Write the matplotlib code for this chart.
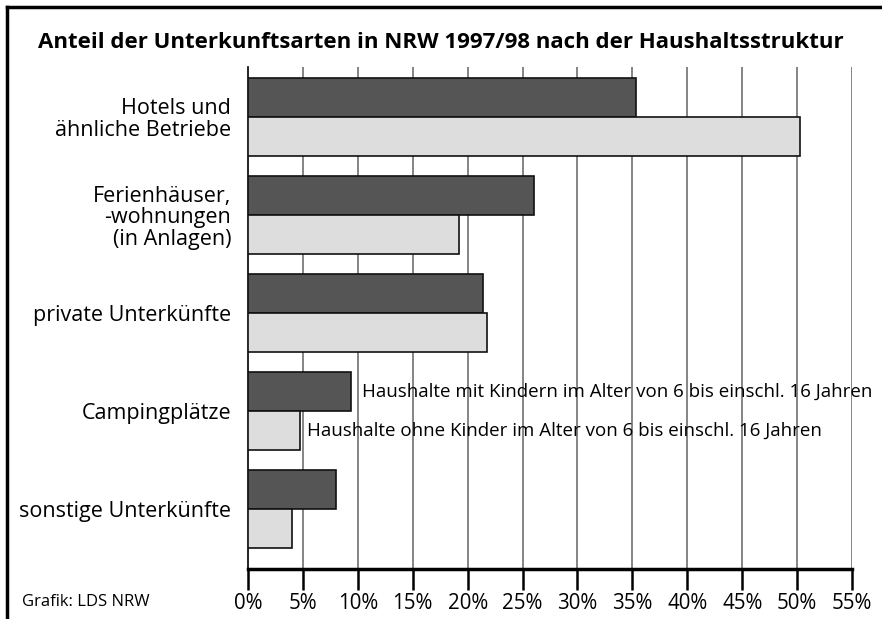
import numpy as np
import matplotlib.pyplot as plt
from matplotlib.lines import Line2D

plt.rcParams["font.family"] = ["Open Sans", "DejaVu Sans"]

categories = ["Hotels und\nähnliche Betriebe",
              "Ferienhäuser,\n-wohnungen\n(in Anlagen)",
              "private Unterkünfte",
              "Campingplätze",
              "sonstige Unterkünfte"]
with_kids = [35.3, 26.0, 21.4, 9.4, 8.0]
without_kids = [50.3, 19.2, 21.8, 4.7, 4.0]
ticks = list(range(0, 60, 5))
tick_labels = [f"{t}%" for t in ticks]

fig = plt.figure(figsize=(8.82, 6.19), dpi=100)
ax = fig.add_axes([0.2812, 0.0808, 0.6848, 0.811])

y = np.arange(len(categories))
h = 0.4
ax.barh(y - h / 2, with_kids, height=h, color="#555555", edgecolor="#111111",
        linewidth=1.2, zorder=3)
ax.barh(y + h / 2, without_kids, height=h, color="#dddddd", edgecolor="#111111",
        linewidth=1.2, zorder=3)

ax.set_xlim(0, 55)
ax.set_ylim(4.61, -0.51)
ax.set_xticks(ticks)
ax.set_xticklabels(tick_labels, fontsize=14.8)
ax.set_yticks(y)
ax.set_yticklabels(categories, fontsize=15.5, multialignment="right", linespacing=1.05)
ax.tick_params(axis="y", length=0, pad=12)
ax.tick_params(axis="x", direction="out", length=15, width=1.8, pad=2)
for t in ticks[1:]:
    ax.axvline(t, color="#707070", linewidth=1.2, zorder=1)

for s in ["top", "right"]:
    ax.spines[s].set_visible(False)
ax.spines["left"].set_linewidth(1.2)
ax.spines["bottom"].set_linewidth(2.5)

ax.text(10.4, 3 - h / 2, "Haushalte mit Kindern im Alter von 6 bis einschl. 16 Jahren",
        fontsize=13.5, va="center", ha="left", zorder=4)
ax.text(5.4, 3 + h / 2, "Haushalte ohne Kinder im Alter von 6 bis einschl. 16 Jahren",
        fontsize=13.5, va="center", ha="left", zorder=4)

fig.text(0.5, 0.932, "Anteil der Unterkunftsarten in NRW 1997/98 nach der Haushaltsstruktur",
         ha="center", va="center", fontsize=16, fontweight="bold")
fig.text(22 / 882, 1 - 602 / 619, "Grafik: LDS NRW", fontsize=12, va="center", ha="left")

# frame around the figure (top and left edges)
fig.add_artist(Line2D([7 / 882, 1], [1 - 7 / 619, 1 - 7 / 619], color="black",
                      linewidth=2.5, transform=fig.transFigure))
fig.add_artist(Line2D([7 / 882, 7 / 882], [0, 1 - 7 / 619], color="black",
                      linewidth=2.5, transform=fig.transFigure))

fig.savefig("out.png", dpi=100)
